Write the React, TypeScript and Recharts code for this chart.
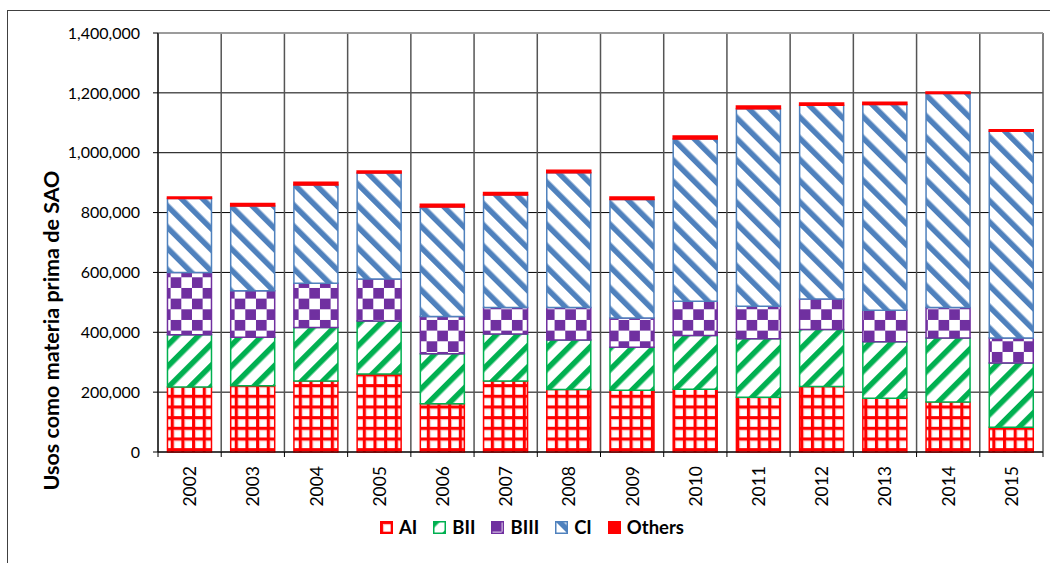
import React from 'react';
import { BarChart, Bar, XAxis, YAxis, CartesianGrid, ReferenceLine } from 'recharts';

const years = ['2002', '2003', '2004', '2005', '2006', '2007', '2008', '2009', '2010', '2011', '2012', '2013', '2014', '2015'];
const ai = [217000, 221000, 237000, 261000, 161000, 237000, 209000, 206000, 210000, 183000, 219000, 180000, 167000, 83000];
const bii = [175000, 162000, 179000, 177000, 167000, 157000, 165000, 144000, 179000, 195000, 190000, 188000, 214000, 214000];
const biii = [208000, 156000, 148000, 140000, 125000, 89000, 109000, 98000, 115000, 109000, 102000, 106000, 102000, 84000];
const ci = [247000, 283000, 328000, 354000, 366000, 376000, 450000, 396000, 542000, 660000, 648000, 687000, 715000, 691000];
const others = [5000, 8000, 9000, 7000, 9000, 8000, 8000, 8000, 10000, 9000, 7000, 8000, 5000, 5000];
const yTicks = [0, 200000, 400000, 600000, 800000, 1000000, 1200000, 1400000];

const series = [
  { key: 'AI', color: '#FF0000', fill: 'url(#patAI)' },
  { key: 'BII', color: '#00B050', fill: 'url(#patBII)' },
  { key: 'BIII', color: '#7030A0', fill: 'url(#patBIII)' },
  { key: 'CI', color: '#4F81BD', fill: 'url(#patCI)' },
  { key: 'Others', color: '#FF0000', fill: '#FF0000' },
];

const data = years.map((year, i) => ({
  year,
  AI: ai[i],
  BII: bii[i],
  BIII: biii[i],
  CI: ci[i],
  Others: others[i],
}));

const CHART_W = 1050;
const CHART_H = 563;
const Y_AXIS_W = 158;
const MARGIN = { top: 33, right: 7, bottom: 51, left: 0 };
const BAND = (CHART_W - Y_AXIS_W - MARGIN.right) / years.length;

const fmt = (v: number) => v.toLocaleString('en-US');

const YearTick = (props: any) => {
  const { x, y, payload, index } = props;
  const half = BAND / 2;
  return (
    <g>
      <line x1={x - half} x2={x - half} y1={y} y2={y + 5} stroke="#000" />
      {index === years.length - 1 && <line x1={x + half} x2={x + half} y1={y} y2={y + 5} stroke="#000" />}
      <text
        transform={`translate(${x + 6.5},${y + 14}) rotate(-90)`}
        textAnchor="end"
        fontSize={17.5}
        fill="#000"
      >
        {payload.value}
      </text>
    </g>
  );
};

const AxisTitle = (props: any) => {
  const vb = props.viewBox || { x: 0, y: 0, height: 0 };
  const cx = vb.x + 51;
  const cy = vb.y + vb.height / 2 + 88;
  return (
    <text
      transform={`translate(${cx},${cy}) rotate(-90)`}
      textAnchor="middle"
      dominantBaseline="central"
      fontSize={21.5}
      fontWeight="bold"
      fill="#000"
    >
      Usos como materia prima de SAO
    </text>
  );
};

const Patterns = () => (
  <defs>
    <pattern id="patAI" width="10.67" height="10.67" patternUnits="userSpaceOnUse">
      <rect width="10.67" height="10.67" fill="#fff" />
      <rect x="0" y="0" width="10.67" height="3" fill="#FF0000" />
      <rect x="0" y="0" width="3" height="10.67" fill="#FF0000" />
      <rect x="3" y="3" width="7.67" height="1" fill="#ffb3b3" />
      <rect x="3" y="3" width="1" height="7.67" fill="#ffb3b3" />
    </pattern>
    <pattern id="patBII" width="15" height="15" patternUnits="userSpaceOnUse" patternTransform="rotate(45)">
      <rect width="15" height="15" fill="#fff" />
      <rect x="0" y="0" width="5.5" height="15" fill="#00B050" />
    </pattern>
    <pattern id="patBIII" width="21.33" height="21.33" patternUnits="userSpaceOnUse">
      <rect width="21.33" height="21.33" fill="#fff" />
      <rect x="0" y="0" width="10.67" height="10.67" fill="#7030A0" />
      <rect x="10.67" y="10.67" width="10.67" height="10.67" fill="#7030A0" />
    </pattern>
    <pattern id="patCI" width="15" height="15" patternUnits="userSpaceOnUse" patternTransform="rotate(-45)">
      <rect width="15" height="15" fill="#fff" />
      <rect x="0" y="0" width="5.5" height="15" fill="#4F81BD" />
    </pattern>
  </defs>
);

const LegendRow = () => (
  <div
    style={{
      position: 'absolute',
      left: 8,
      top: 516,
      width: 1048,
      display: 'flex',
      justifyContent: 'center',
      alignItems: 'center',
      gap: 16,
      fontSize: 18.5,
      fontWeight: 'bold',
      color: '#000',
    }}
  >
    {series.map((s) => (
      <div key={s.key} style={{ display: 'flex', alignItems: 'center', gap: 6 }}>
        <svg width={13} height={13}>
          <rect x={0.75} y={0.75} width={11.5} height={11.5} fill={s.fill} stroke={s.color} strokeWidth={1.5} />
        </svg>
        <span>{s.key}</span>
      </div>
    ))}
  </div>
);

export default function App() {
  return (
    <div
      style={{
        position: 'fixed',
        left: 0,
        top: 0,
        width: CHART_W,
        height: CHART_H,
        overflow: 'hidden',
        background: '#fff',
        fontFamily: 'Lato, sans-serif',
      }}
    >
      <div
        style={{
          position: 'absolute',
          left: 7,
          top: 10,
          width: 1100,
          height: 700,
          border: '1px solid #404040',
        }}
      />
      <div style={{ position: 'absolute', left: 0, top: 0 }}>
        <BarChart width={CHART_W} height={CHART_H} data={data} margin={MARGIN} barCategoryGap="15%">
          <Patterns />
          <CartesianGrid horizontal={true} vertical={false} stroke="#000" />
          <CartesianGrid
            horizontal={false}
            vertical={true}
            stroke="#555"
            strokeWidth={1.5}
            verticalCoordinatesGenerator={({ offset }: any) =>
              years.map((_, i) => offset.left + (i * offset.width) / years.length).concat(offset.left + offset.width)
            }
          />
          <ReferenceLine y={1400000} stroke="#a6a6a6" strokeWidth={1.5} />
          <XAxis
            dataKey="year"
            interval={0}
            height={60}
            axisLine={{ stroke: '#000' }}
            tickLine={false}
            tickSize={0}
            tickMargin={0}
            tick={<YearTick />}
          />
          <YAxis
            width={Y_AXIS_W}
            domain={[0, 1400000]}
            ticks={yTicks}
            interval={0}
            tickFormatter={fmt}
            axisLine={{ stroke: '#000' }}
            tickLine={{ stroke: '#000' }}
            tickSize={5}
            tickMargin={13}
            tick={{ fill: '#000', fontSize: 16 }}
            label={<AxisTitle />}
          />
          {series.map((s) => (
            <Bar
              key={s.key}
              dataKey={s.key}
              stackId="total"
              fill={s.fill}
              stroke={s.color}
              strokeWidth={1.5}
              isAnimationActive={false}
            />
          ))}
        </BarChart>
      </div>
      <LegendRow />
    </div>
  );
}
